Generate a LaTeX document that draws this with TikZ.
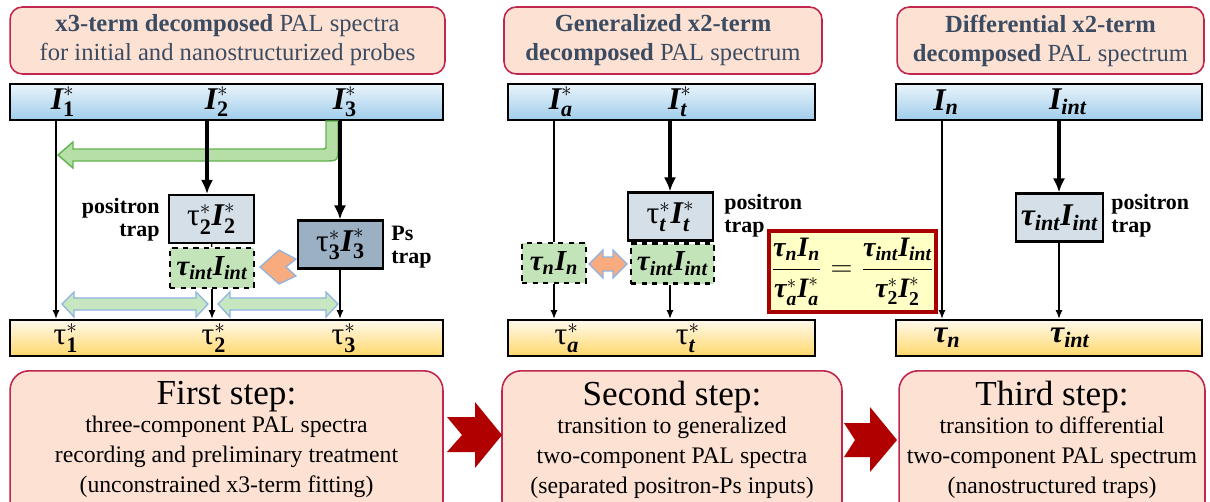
\documentclass[tikz,border=0pt]{standalone}
\usepackage{amsmath}
\usepackage{fontspec}
\setmainfont{Liberation Serif}
\usetikzlibrary{arrows.meta,positioning}

\definecolor{hdrfill}{HTML}{FDE2D4}
\definecolor{hdrline}{HTML}{C0264E}
\definecolor{hdrtext}{HTML}{3B4B61}
\definecolor{topup}{HTML}{EAF4FB}
\definecolor{topdown}{HTML}{9FCDEB}
\definecolor{botup}{HTML}{FFF9EC}
\definecolor{botdown}{HTML}{FFD86B}
\definecolor{trapfill}{HTML}{D5DFE8}
\definecolor{psfill}{HTML}{9CB0C4}
\definecolor{intfill}{HTML}{C2E4B8}
\definecolor{eqfill}{HTML}{FFFFC6}
\definecolor{eqline}{HTML}{A80000}
\definecolor{chevred}{HTML}{B00000}
\definecolor{orangefill}{HTML}{F7AB7E}
\definecolor{edgeblue}{HTML}{8DB3E2}
\definecolor{bentfill}{HTML}{B5DFA6}
\definecolor{bentline}{HTML}{62B34F}
\definecolor{dblfill}{HTML}{C6E7BF}

% bold italic letters and indices
\newcommand{\bI}{\text{\bfseries\itshape I}}
\newcommand{\bt}{\text{\bfseries\itshape τ}}
\newcommand{\ut}{\text{τ}}
\newcommand{\bs}[1]{\text{\bfseries #1}}
\newcommand{\bis}[1]{\text{\bfseries\itshape #1}}

\tikzset{
  hdrbox/.style={draw=hdrline, fill=hdrfill, line width=0.9pt, rounded corners=7pt,
    minimum height=1.34cm, text=hdrtext, align=center, font={\fontsize{14}{16.5}\selectfont}},
  topbar/.style={draw, line width=1.3pt, top color=topup, bottom color=topdown, minimum height=0.72cm},
  botbar/.style={draw, line width=1.3pt, top color=botup, bottom color=botdown, minimum height=0.72cm},
  lbl/.style={font={\fontsize{18}{20}\selectfont}, inner sep=0pt},
  trapbox/.style={draw, line width=1.2pt, fill=trapfill, minimum width=1.7cm, minimum height=0.96cm,
    inner sep=0pt, font={\fontsize{18}{20}\selectfont}},
  psbox/.style={trapbox, fill=psfill},
  intbox/.style={draw, dashed, line width=1.2pt, fill=intfill, minimum height=0.8cm,
    inner sep=0pt, font={\fontsize{16.5}{18}\selectfont}},
  traptext/.style={font={\bfseries\fontsize{12.5}{13}\selectfont}, inner sep=0pt},
  thickarr/.style={line width=1.8pt, -{Latex[length=8pt,width=7pt]}},
  thinarr/.style={line width=0.8pt, -{Latex[length=5pt,width=4pt]}},
  thinline/.style={line width=0.8pt},
  stepbox/.style={draw=hdrline, fill=hdrfill, line width=0.9pt, rounded corners=11pt,
    minimum height=3cm, anchor=north},
  steptext/.style={align=center, inner sep=0pt, anchor=north, font={\fontsize{13.5}{17}\selectfont}},
  dblarr/.style={draw=edgeblue, fill=dblfill, line width=0.7pt},
  orangearr/.style={draw=edgeblue, fill=orangefill, line width=0.7pt},
  chevron/.style={fill=chevred}
}

\begin{document}
\begin{tikzpicture}[x=0.02cm, y=-0.02cm]
\useasboundingbox (0,0) rectangle (1210,501);

% headers
\node[hdrbox, minimum width=8.7cm] (hdrA) at (227.5,40.5)
  {\textbf{x3-term decomposed} PAL spectra\\for initial and nanostructurized probes};
\node[hdrbox, minimum width=6.36cm] (hdrB) at (663,40.5)
  {\textbf{Generalized x2-term}\\\textbf{decomposed} PAL spectrum};
\node[hdrbox, minimum width=6.14cm] (hdrC) at (1050.5,40.5)
  {\textbf{Differential x2-term}\\\textbf{decomposed} PAL spectrum};

% bars
\node[topbar, minimum width=8.66cm] (topA) at (226.5,102) {};
\node[topbar, minimum width=6.14cm] (topB) at (661.5,102) {};
\node[topbar, minimum width=6.12cm] (topC) at (1049,102) {};
\node[botbar, minimum width=8.66cm] (botA) at (226.5,338) {};
\node[botbar, minimum width=6.14cm] (botB) at (661.5,338) {};
\node[botbar, minimum width=6.12cm] (botC) at (1049,338) {};

% labels in the bars
\node[lbl] (iA1) at (63,102) {$\bI^{*}_{\bs{1}}$};
\node[lbl] (iA2) at (217,102) {$\bI^{*}_{\bs{2}}$};
\node[lbl] (iA3) at (345,102) {$\bI^{*}_{\bs{3}}$};
\node[lbl] (iB1) at (561,102) {$\bI^{*}_{\bis{a}}$};
\node[lbl] (iB2) at (680,102) {$\bI^{*}_{\bis{t}}$};
\node[lbl] (iC1) at (946,102) {$\bI_{\bis{n}}$};
\node[lbl] (iC2) at (1068,102) {$\bI_{\bis{int}}$};
\node[lbl] (tA1) at (66,338) {$\ut^{*}_{\bs{1}}$};
\node[lbl] (tA2) at (214,338) {$\ut^{*}_{\bs{2}}$};
\node[lbl] (tA3) at (344,338) {$\ut^{*}_{\bs{3}}$};
\node[lbl] (tB1) at (567,338) {$\ut^{*}_{\bis{a}}$};
\node[lbl] (tB2) at (688,338) {$\ut^{*}_{\bis{t}}$};
\node[lbl] (tC1) at (947,338) {$\bt_{\bis{n}}$};
\node[lbl] (tC2) at (1070,338) {$\bt_{\bis{int}}$};

% trap boxes
\node[trapbox] (bA2) at (211.5,219) {$\ut^{*}_{\bs{2}}\bI^{*}_{\bs{2}}$};
\node[intbox, minimum width=1.68cm] (dA) at (212,268) {$\bt_{\bis{int}}\bI_{\bis{int}}$};
\node[psbox] (bA3) at (340.5,244.5) {$\ut^{*}_{\bs{3}}\bI^{*}_{\bs{3}}$};
\node[intbox, minimum width=1.28cm] (dBn) at (554,263) {$\bt_{\bis{n}}\bI_{\bis{n}}$};
\node[trapbox] (bBt) at (670.5,216.5) {$\ut^{*}_{\bis{t}}\bI^{*}_{\bis{t}}$};
\node[intbox, minimum width=1.66cm] (dBi) at (672.5,263.5) {$\bt_{\bis{int}}\bI_{\bis{int}}$};
\node[trapbox, minimum width=1.74cm] (bC) at (1059.5,217.5) {$\bt_{\bis{int}}\bI_{\bis{int}}$};

% trap notes
\node[traptext, align=right, anchor=east] (nA2) at (160,220) {positron\\trap};
\node[traptext, align=left, anchor=west] (nA3) at (391,247) {Ps\\trap};
\node[traptext, align=left, anchor=west] (nB) at (724,216) {positron\\trap};
\node[traptext, align=left, anchor=west] (nC) at (1111,216) {positron\\trap};

% equation
\node[draw=eqline, fill=eqfill, line width=2.2pt, minimum width=3.34cm, minimum height=1.62cm,
  inner sep=0pt, font={\fontsize{16}{18}\selectfont}] (eq) at (852.5,271.5)
  {$\dfrac{\bt_{\bis{n}}\bI_{\bis{n}}}{\bt^{*}_{\bis{a}}\bI^{*}_{\bis{a}}}
   =\dfrac{\bt_{\bis{int}}\bI_{\bis{int}}}{\bt^{*}_{\bs{2}}\bI^{*}_{\bs{2}}}$};

% line positions
\coordinate (pA1) at (56,0);
\coordinate (pA2) at (207,0);
\coordinate (pA3) at (340,0);
\coordinate (pB1) at (554,0);
\coordinate (pB2) at (670,0);
\coordinate (pC1) at (942,0);
\coordinate (pC2) at (1059,0);

% green bent arrow
\draw[draw=bentline, fill=bentfill, line width=0.8pt] (326,121) -- (338,121) -- (338,147)
  .. controls (338,161) .. (324,161) -- (73,161) -- (73,168) -- (58,155) -- (73,142)
  -- (73,149) -- (322,149) .. controls (326,149) .. (326,145) -- cycle;

% panel one
\draw[thinarr] (topA.south -| pA1) -- (botA.north -| pA1);
\draw[thickarr] (topA.south -| pA2) -- (bA2.north -| pA2);
\draw[thinline] (bA2) -- (dA);
\draw[thinarr] (dA.south) -- (botA.north -| dA.south);
\draw[thickarr] (topA.south -| pA3) -- (bA3.north -| pA3);
\draw[thinarr] (bA3.south -| pA3) -- (botA.north -| pA3);
\foreach \xa/\xb in {62/208, 218/338}
  \draw[dblarr] (\xa,304) -- (\xa+12,292) -- (\xa+12,298) -- (\xb-12,298) -- (\xb-12,292)
    -- (\xb,304) -- (\xb-12,317) -- (\xb-12,310) -- (\xa+12,310) -- (\xa+12,317) -- cycle;
\draw[orangearr] (260,267) -- (279,250) -- (296,259) -- (286,267) -- (296,276) -- (279,284) -- cycle;

% panel two
\draw[thinline] (topB.south -| pB1) -- (dBn.north -| pB1);
\draw[thinarr] (dBn.south -| pB1) -- (botB.north -| pB1);
\draw[thickarr] (topB.south -| pB2) -- (bBt.north -| pB2);
\draw[thinline] (bBt) -- (dBi);
\draw[thinarr] (dBi.south -| pB2) -- (botB.north -| pB2);
\draw[orangearr] (589,264) -- (603,250) -- (603,257) -- (613,257) -- (613,250) -- (627,264)
  -- (613,278) -- (613,271) -- (603,271) -- (603,278) -- cycle;

% panel three
\draw[thinarr] (topC.south -| pC1) -- (botC.north -| pC1);
\draw[thickarr] (topC.south -| pC2) -- (bC.north -| pC2);
\draw[thinarr] (bC.south -| pC2) -- (botC.north -| pC2);

% steps
\node[stepbox, minimum width=8.66cm] (stA) at (226.5,370) {};
\node[stepbox, minimum width=6.8cm] (stB) at (672,370) {};
\node[stepbox, minimum width=6.12cm] (stC) at (1052,370) {};
\foreach \st/\head/\la/\lb/\lc in {
  stA/First step:/three-component PAL spectra/recording and preliminary treatment/(unconstrained x3-term fitting),
  stB/Second step:/transition to generalized/two-component PAL spectra/(separated positron-Ps inputs),
  stC/Third step:/transition to differential/two-component PAL spectrum/(nanostructured traps)}
  \node[steptext] at ([yshift=-6pt]\st.north)
    {{\fontsize{20}{22}\selectfont \head}\\[-1pt]\la\\\lb\\\lc};
\fill[chevron] (447,417) -- (475,417) -- (475,402) -- (502,435) -- (475,468) -- (475,452)
  -- (447,452) -- (462,435) -- cycle;
\fill[chevron] (844,423) -- (870,423) -- (870,407) -- (897,440) -- (870,472) -- (870,457)
  -- (844,457) -- (855,440) -- cycle;
\end{tikzpicture}
\end{document}
